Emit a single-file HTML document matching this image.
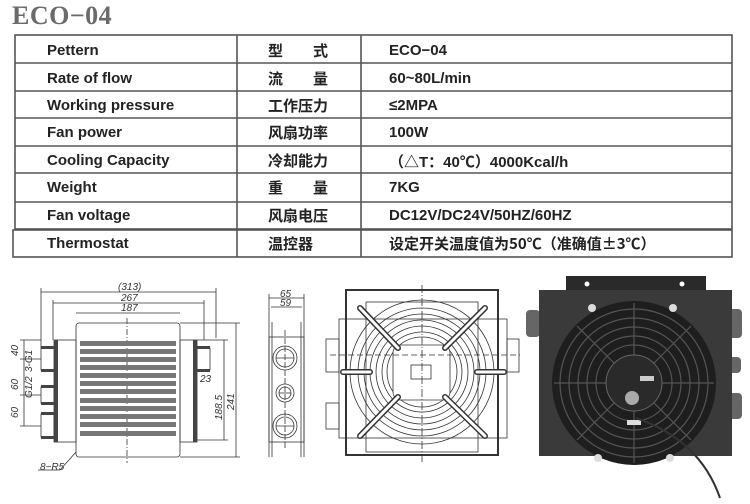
<!DOCTYPE html>
<html><head><meta charset="utf-8">
<style>
html,body{margin:0;padding:0;background:#fff;}
body{width:750px;height:504px;position:relative;overflow:hidden;font-family:"Liberation Sans","Noto Sans CJK SC",sans-serif;}
.t{position:absolute;left:12px;top:2px;font-family:"Liberation Serif",serif;font-weight:bold;font-size:26px;line-height:28px;color:#6a6a6a;letter-spacing:0.5px;}
.r{position:absolute;font-weight:bold;font-size:15px;color:#222;white-space:nowrap;}
.c{position:absolute;font-weight:bold;font-size:15px;color:#222;font-family:"Noto Sans CJK SC",sans-serif;white-space:nowrap;}
</style></head><body>
<div class="t">ECO−04</div>
<svg width="750" height="504" style="position:absolute;left:0;top:0">
<g stroke="#555" stroke-width="1.6" fill="none">
<rect x="15" y="35" width="717" height="194"/>
<line x1="15" y1="63" x2="732" y2="63"/><line x1="15" y1="91" x2="732" y2="91"/>
<line x1="15" y1="118" x2="732" y2="118"/><line x1="15" y1="146" x2="732" y2="146"/>
<line x1="15" y1="173" x2="732" y2="173"/><line x1="15" y1="202" x2="732" y2="202"/>
<rect x="13" y="230" width="719" height="27"/>
<line x1="237" y1="35" x2="237" y2="257"/><line x1="361" y1="35" x2="361" y2="257"/>
</g>
<!-- left drawing -->
<g stroke="#333" stroke-width="0.8" fill="none">
<line x1="41" y1="292" x2="216" y2="292"/><line x1="41" y1="288" x2="41" y2="348"/><line x1="216" y1="288" x2="216" y2="338"/>
<line x1="53" y1="303" x2="204" y2="303"/><line x1="53" y1="300" x2="53" y2="340"/><line x1="204" y1="300" x2="204" y2="340"/>
<line x1="76" y1="313" x2="180" y2="313"/>
<rect x="76" y="323" width="104" height="134" rx="3"/>
<rect x="54" y="340" width="22" height="102"/>
<rect x="180" y="340" width="17" height="102"/>
<rect x="41" y="348" width="13" height="22" fill="#fff"/><rect x="41" y="387" width="13" height="16"/><rect x="41" y="414" width="13" height="23"/>
<rect x="197" y="348" width="13" height="22"/>
<line x1="127" y1="318" x2="127" y2="463" stroke-dasharray="6,2,1,2"/>
<line x1="180" y1="323" x2="240" y2="323"/><line x1="180" y1="457" x2="240" y2="457"/>
<line x1="197" y1="340" x2="228" y2="340"/><line x1="197" y1="440" x2="228" y2="440"/>
<line x1="224" y1="340" x2="224" y2="440"/><line x1="236" y1="323" x2="236" y2="457"/>
<line x1="20" y1="340" x2="41" y2="340"/><line x1="20" y1="359" x2="41" y2="359"/><line x1="20" y1="395" x2="41" y2="395"/><line x1="20" y1="426" x2="41" y2="426"/>
<line x1="24" y1="340" x2="24" y2="426"/>
<line x1="76" y1="452" x2="60" y2="470"/><line x1="60" y1="470" x2="38" y2="470"/>
</g>
<g fill="#444">
<rect x="54" y="340" width="4" height="102"/><rect x="41" y="346" width="13" height="3"/><rect x="41" y="369" width="13" height="3"/><rect x="41" y="385" width="13" height="3"/><rect x="41" y="402" width="13" height="3"/><rect x="41" y="412" width="13" height="3"/><rect x="41" y="436" width="13" height="3"/>
<rect x="193" y="340" width="4" height="102"/><rect x="197" y="346" width="13" height="3"/><rect x="197" y="369" width="13" height="3"/>
</g>
<g fill="#777">
<rect x="80" y="341" width="96" height="5"/><rect x="80" y="349" width="96" height="5"/><rect x="80" y="357" width="96" height="5"/><rect x="80" y="365" width="96" height="5"/><rect x="80" y="373" width="96" height="5"/><rect x="80" y="381" width="96" height="5"/><rect x="80" y="389" width="96" height="5"/><rect x="80" y="398" width="96" height="5"/><rect x="80" y="406" width="96" height="5"/><rect x="80" y="414" width="96" height="5"/><rect x="80" y="422" width="96" height="5"/><rect x="80" y="431" width="96" height="5"/>
</g>
<g font-family="Liberation Sans" font-style="italic" font-size="10" fill="#333">
<text x="118" y="290">(313)</text><text x="121" y="301">267</text><text x="121" y="311">187</text>
<text x="200" y="382">23</text>
<text x="40" y="470">8−R5</text>
<text transform="translate(222,420) rotate(-90)">188.5</text>
<text transform="translate(234,410) rotate(-90)">241</text>
<text transform="translate(18,356) rotate(-90)">40</text>
<text transform="translate(18,390) rotate(-90)">60</text>
<text transform="translate(18,418) rotate(-90)">60</text>
<text transform="translate(32,372) rotate(-90)">3-G1</text>
<text transform="translate(32,398) rotate(-90)">G1/2</text>
</g>
<!-- side view -->
<g stroke="#333" stroke-width="0.8" fill="none">
<line x1="269" y1="298" x2="304" y2="298"/><line x1="271" y1="307" x2="302" y2="307"/>
<line x1="269" y1="294" x2="269" y2="457"/><line x1="304" y1="294" x2="304" y2="457"/>
<line x1="272" y1="322" x2="272" y2="457"/><line x1="301" y1="322" x2="301" y2="457"/>
<rect x="269" y="337" width="35" height="105"/>
<circle cx="285" cy="358" r="12"/><circle cx="285" cy="358" r="9"/>
<circle cx="285" cy="393" r="9"/><circle cx="285" cy="393" r="6"/>
<circle cx="285" cy="426" r="12"/><circle cx="285" cy="426" r="9"/>
<line x1="285" y1="330" x2="285" y2="450" stroke-dasharray="6,2"/>
<line x1="276" y1="358" x2="294" y2="358"/><line x1="279" y1="393" x2="291" y2="393"/><line x1="276" y1="426" x2="294" y2="426"/>
</g>
<g font-family="Liberation Sans" font-style="italic" font-size="10" fill="#333"><text x="280" y="297">65</text><text x="280" y="306">59</text></g>
<!-- front view -->
<g stroke="#333" stroke-width="0.8" fill="none">
<rect x="346" y="290" width="152" height="165" stroke-width="2"/>
<rect x="339" y="319" width="168" height="119"/>
<rect x="326" y="339" width="13" height="33"/><rect x="326" y="403" width="13" height="26"/><rect x="507" y="339" width="12" height="33"/>
<rect x="366" y="302" width="112" height="150"/>
<circle cx="422" cy="372" r="72"/><circle cx="422" cy="372" r="64"/><circle cx="422" cy="372" r="58"/><circle cx="422" cy="372" r="52"/><circle cx="422" cy="372" r="46"/><circle cx="422" cy="372" r="40"/><circle cx="422" cy="372" r="35"/>
<rect x="393" y="345" width="57" height="55" rx="8" fill="#fff"/>
<rect x="411" y="365" width="20" height="14"/>
<line x1="422" y1="285" x2="422" y2="462" stroke-dasharray="8,2,1,2"/>
<line x1="330" y1="355" x2="520" y2="355" stroke-dasharray="6,3"/>
</g>
<g stroke="#333" stroke-width="6" stroke-linecap="round"><line x1="360" y1="308" x2="398" y2="348"/><line x1="485" y1="308" x2="445" y2="348"/><line x1="360" y1="436" x2="398" y2="397"/><line x1="485" y1="436" x2="445" y2="397"/><line x1="343" y1="372" x2="370" y2="372"/><line x1="477" y1="372" x2="504" y2="372"/></g>
<g stroke="#fff" stroke-width="3" stroke-linecap="round"><line x1="360" y1="308" x2="398" y2="348"/><line x1="485" y1="308" x2="445" y2="348"/><line x1="360" y1="436" x2="398" y2="397"/><line x1="485" y1="436" x2="445" y2="397"/><line x1="343" y1="372" x2="370" y2="372"/><line x1="477" y1="372" x2="504" y2="372"/></g>
<!-- photo -->
<rect x="566" y="276" width="140" height="16" fill="#2a2a2a"/>
<circle cx="587" cy="284" r="2.5" fill="#fff"/><circle cx="682" cy="284" r="2.5" fill="#fff"/>
<rect x="526" y="310" width="14" height="27" rx="4" fill="#666"/>
<rect x="729" y="309" width="13" height="29" rx="4" fill="#666"/><rect x="729" y="357" width="12" height="16" rx="4" fill="#666"/><rect x="729" y="393" width="13" height="26" rx="4" fill="#666"/>
<rect x="539" y="290" width="193" height="166" fill="#3a3a3a"/>
<circle cx="634" cy="383" r="82" fill="#1e1e1e"/>
<g stroke="#555" stroke-width="1.2" fill="none">
<circle cx="634" cy="383" r="74"/><circle cx="634" cy="383" r="65"/><circle cx="634" cy="383" r="56"/><circle cx="634" cy="383" r="47"/><circle cx="634" cy="383" r="38"/>
<line x1="634" y1="303" x2="634" y2="463"/><line x1="554" y1="383" x2="714" y2="383"/><line x1="577" y1="326" x2="691" y2="440"/><line x1="691" y1="326" x2="577" y2="440"/>
</g>
<circle cx="634" cy="383" r="28" fill="#2a2a2a" stroke="#666"/>
<circle cx="632" cy="398" r="7" fill="#aaa"/>
<rect x="640" y="376" width="14" height="5" fill="#ccc"/>
<rect x="627" y="420" width="14" height="5" fill="#ddd"/>
<path d="M636 418 Q700 440 720 498" stroke="#333" stroke-width="2" fill="none"/>
<circle cx="592" cy="308" r="4" fill="#ddd"/><circle cx="673" cy="308" r="4" fill="#ddd"/>
<circle cx="598" cy="458" r="4" fill="#ddd"/><circle cx="670" cy="458" r="4" fill="#ddd"/>
</svg>
<div class="r" style="left:47px;top:42px">Pettern</div>
<div class="r" style="left:47px;top:70px">Rate of flow</div>
<div class="r" style="left:47px;top:97px">Working pressure</div>
<div class="r" style="left:47px;top:124px">Fan power</div>
<div class="r" style="left:47px;top:152px">Cooling Capacity</div>
<div class="r" style="left:47px;top:179px">Weight</div>
<div class="r" style="left:47px;top:207px">Fan voltage</div>
<div class="r" style="left:47px;top:235px">Thermostat</div>
<div class="c" style="left:268px;top:40px;letter-spacing:30px">型式</div>
<div class="c" style="left:268px;top:68px;letter-spacing:30px">流量</div>
<div class="c" style="left:268px;top:95px">工作压力</div>
<div class="c" style="left:268px;top:122px">风扇功率</div>
<div class="c" style="left:268px;top:150px">冷却能力</div>
<div class="c" style="left:268px;top:177px;letter-spacing:30px">重量</div>
<div class="c" style="left:268px;top:205px">风扇电压</div>
<div class="c" style="left:268px;top:233px">温控器</div>
<div class="r" style="left:389px;top:42px">ECO−04</div>
<div class="r" style="left:389px;top:70px">60~80L/min</div>
<div class="r" style="left:389px;top:97px">≤2MPA</div>
<div class="r" style="left:389px;top:124px">100W</div>
<div class="r" style="left:389px;top:151px">（△T：40℃）4000Kcal/h</div>
<div class="r" style="left:389px;top:179px">7KG</div>
<div class="r" style="left:389px;top:207px">DC12V/DC24V/50HZ/60HZ</div>
<div class="c" style="left:389px;top:233px">设定开关温度值为50℃（准确值±3℃）</div>
</body></html>
